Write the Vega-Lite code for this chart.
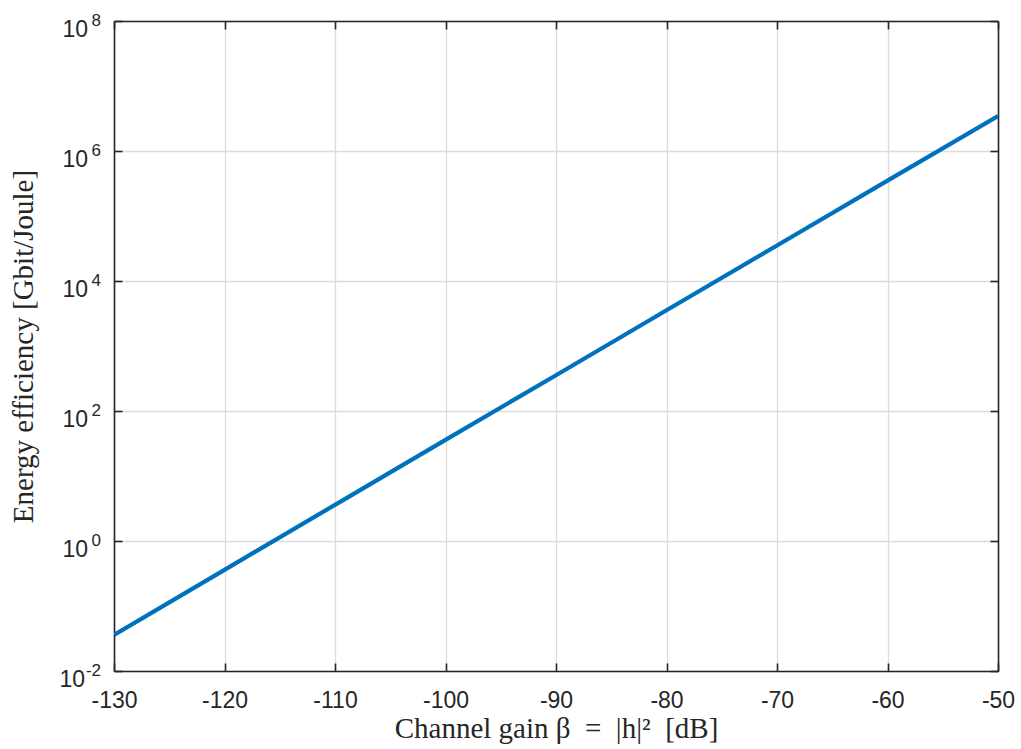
{
  "$schema": "https://vega.github.io/schema/vega-lite/v6.json",
  "width": 884,
  "height": 650,
  "autosize": {"type": "none"},
  "padding": {"left": 114, "top": 21, "right": 23, "bottom": 78},
  "background": "white",
  "config": {
    "view": {"stroke": null},
    "axis": {
      "domainColor": "#262626",
      "domainWidth": 1.6,
      "tickColor": "#262626",
      "tickWidth": 1.6,
      "gridColor": "#dcdcdc",
      "gridWidth": 1.3,
      "labelFont": "Liberation Sans",
      "labelFontSize": 23,
      "labelColor": "#262626",
      "titleFont": "Liberation Serif",
      "titleFontSize": 29,
      "titleFontWeight": "normal",
      "titleColor": "#262626"
    }
  },
  "datasets": {
    "curve": [
      {"gain": -130, "ee": 0.036},
      {"gain": -120, "ee": 0.36},
      {"gain": -110, "ee": 3.6},
      {"gain": -100, "ee": 36},
      {"gain": -90, "ee": 355},
      {"gain": -80, "ee": 3550},
      {"gain": -70, "ee": 35200},
      {"gain": -60, "ee": 350000},
      {"gain": -50, "ee": 3450000}
    ],
    "ylabels": [
      {"ee": 0.01, "base": "10", "exp": "-2"},
      {"ee": 1, "base": "10", "exp": "0"},
      {"ee": 100, "base": "10", "exp": "2"},
      {"ee": 10000, "base": "10", "exp": "4"},
      {"ee": 1000000, "base": "10", "exp": "6"},
      {"ee": 100000000, "base": "10", "exp": "8"}
    ]
  },
  "layer": [
    {
      "data": {"name": "curve"},
      "mark": {"type": "line", "color": "#0072BD", "strokeWidth": 4.2, "clip": true},
      "encoding": {
        "x": {
          "field": "gain", "type": "quantitative",
          "scale": {"domain": [-130, -50], "nice": false, "zero": false},
          "axis": {
            "orient": "bottom",
            "values": [-130, -120, -110, -100, -90, -80, -70, -60, -50],
            "labelExpr": "'' + datum.value",
            "labelFlush": false,
            "title": "Channel gain β\u00a0\u00a0=\u00a0\u00a0|h|²\u00a0\u00a0[dB]",
            "titleY": 66,
            "titleBaseline": "alphabetic",
            "tickSize": -8,
            "labelPadding": 26,
            "grid": true
          }
        },
        "y": {
          "field": "ee", "type": "quantitative",
          "scale": {"type": "log", "domain": [0.01, 100000000], "nice": false},
          "axis": {
            "orient": "left",
            "values": [0.01, 1, 100, 10000, 1000000, 100000000],
            "labels": false,
            "title": "Energy efficiency [Gbit/Joule]",
            "titleX": -82,
            "titleY": 325,
            "titleAngle": 270,
            "titleBaseline": "alphabetic",
            "titleAlign": "center",
            "tickSize": -8,
            "grid": true
          }
        }
      }
    },
    {
      "data": {"name": "curve"},
      "mark": {"type": "line", "opacity": 0, "clip": true},
      "encoding": {
        "x": {
          "field": "gain", "type": "quantitative",
          "axis": {
            "orient": "top",
            "values": [-130, -120, -110, -100, -90, -80, -70, -60, -50],
            "labels": false, "title": null, "tickSize": -8, "grid": false
          }
        },
        "y": {
          "field": "ee", "type": "quantitative",
          "axis": {
            "orient": "right",
            "values": [0.01, 1, 100, 10000, 1000000, 100000000],
            "labels": false, "title": null, "tickSize": -8, "grid": false
          }
        }
      }
    },
    {
      "data": {"name": "ylabels"},
      "transform": [{"filter": "datum.exp != '-2'"}],
      "mark": {"type": "text", "align": "right", "baseline": "alphabetic", "dx": -26, "dy": 16, "font": "Liberation Sans", "fontSize": 23, "color": "#262626"},
      "encoding": {
        "x": {"datum": -130, "type": "quantitative", "axis": null},
        "y": {"field": "ee", "type": "quantitative", "axis": null},
        "text": {"field": "base"}
      }
    },
    {
      "data": {"name": "ylabels"},
      "transform": [{"filter": "datum.exp == '-2'"}],
      "mark": {"type": "text", "align": "right", "baseline": "alphabetic", "dx": -29, "dy": 16, "font": "Liberation Sans", "fontSize": 23, "color": "#262626"},
      "encoding": {
        "x": {"datum": -130, "type": "quantitative", "axis": null},
        "y": {"field": "ee", "type": "quantitative", "axis": null},
        "text": {"field": "base"}
      }
    },
    {
      "data": {"name": "ylabels"},
      "mark": {"type": "text", "align": "right", "baseline": "alphabetic", "dx": -13, "dy": 5, "font": "Liberation Sans", "fontSize": 17, "color": "#262626"},
      "encoding": {
        "x": {"datum": -130, "type": "quantitative", "axis": null},
        "y": {"field": "ee", "type": "quantitative", "axis": null},
        "text": {"field": "exp"}
      }
    }
  ],
  "resolve": {"axis": {"x": "independent", "y": "independent"}}
}
